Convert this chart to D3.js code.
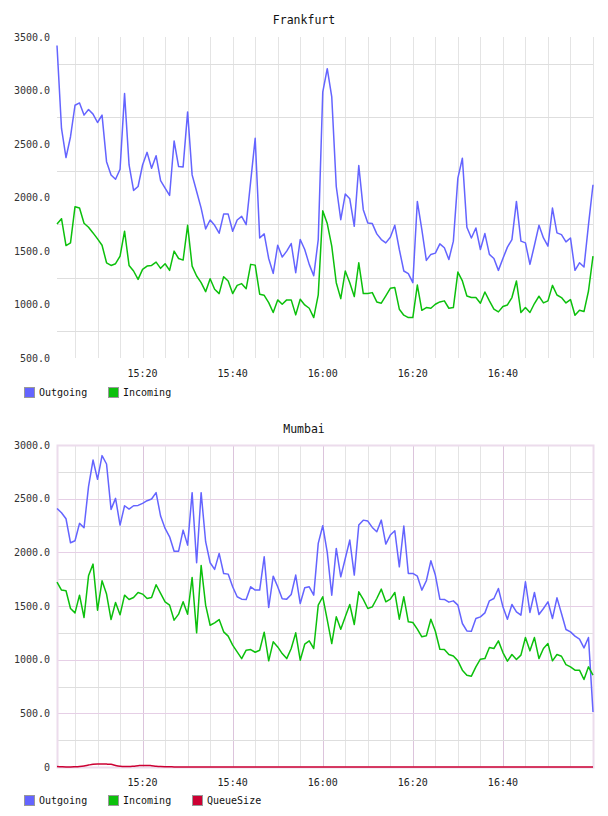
<!DOCTYPE html>
<html><head><meta charset="utf-8">
<script src="https://cdn.jsdelivr.net/npm/d3@7"></script>
<style>body{margin:0;background:#fff}svg{display:block}text{font-family:"DejaVu Sans Mono",monospace}</style>
</head><body>
<script>
// ---- data ----
const startTime = "15:01";           // first sample, one sample per minute
const xTickLabels = ["15:20","15:40","16:00","16:20","16:40"];

const frankfurtOutgoing = [3420,2645,2373,2568,2862,2884,2770,2822,2779,2701,2770,2335,2211,2171,2264,2971,2304,2066,2103,2304,
 2422,2273,2391,2158,2087,2019,2528,2289,2286,2800,2211,2056,1901,1706,1790,1740,1666,1845,1845,1684,
 1790,1824,1746,2150,2553,1622,1660,1430,1291,1554,1443,1499,1570,1297,1607,1514,1375,1269,1607,2985,
 3204,2940,2103,1793,2032,1988,1731,2298,1886,1762,1756,1660,1607,1576,1628,1740,1514,1313,1288,1204,
 1963,1700,1412,1468,1480,1567,1530,1421,1592,2181,2367,1722,1622,1715,1514,1663,1468,1430,1319,1430,
 1536,1607,1963,1592,1576,1375,1554,1740,1622,1545,1901,1669,1653,1585,1622,1319,1390,1350,1746,2119];
const frankfurtIncoming = [1753,1802,1551,1576,1914,1902,1759,1722,1669,1613,1554,1390,1365,1381,1452,1685,1365,1313,1235,1328,
 1359,1365,1396,1338,1381,1319,1499,1430,1415,1740,1359,1266,1204,1120,1241,1142,1102,1260,1220,1102,
 1179,1195,1148,1375,1368,1096,1086,1018,925,1043,1002,1043,1043,903,1049,996,965,878,1089,1875,
 1756,1545,1204,1055,1313,1204,1074,1390,1102,1102,1111,1024,1012,1080,1151,1158,956,900,878,878,
 1182,946,971,965,1002,1024,1034,965,971,1303,1220,1080,1065,1065,1012,1117,1034,956,931,981,
 996,1065,1220,925,971,925,1009,1077,1015,1034,1179,1089,1065,1015,1046,900,946,934,1126,1452];

const mumbaiOutgoing = [2409,2369,2313,2089,2108,2270,2229,2612,2860,2680,2901,2823,2400,2503,2254,2434,2403,2434,2437,2456,
 2481,2497,2556,2338,2223,2145,2011,2011,2207,2067,2556,1903,2556,2099,1903,1841,1990,1803,1797,1679,
 1586,1564,1561,1679,1648,1648,1959,1486,1778,1679,1567,1564,1607,1788,1523,1670,1679,1601,2083,2248,
 2000,1601,2036,1772,1943,2114,1788,2254,2300,2291,2232,2192,2300,2077,2161,2201,1865,2245,1803,1803,
 1778,1648,1735,1921,1788,1564,1561,1536,1548,1508,1337,1268,1265,1383,1399,1436,1548,1570,1663,1492,
 1377,1514,1446,1415,1726,1440,1626,1421,1477,1539,1383,1576,1430,1281,1259,1219,1191,1110,1206,513];
const mumbaiIncoming = [1722,1648,1642,1477,1436,1601,1393,1781,1890,1461,1735,1611,1374,1533,1418,1601,1561,1579,1626,1611,
 1570,1579,1698,1617,1539,1508,1368,1424,1539,1424,1766,1250,1878,1508,1321,1343,1374,1259,1219,1135,
 1073,1010,1088,1094,1069,1088,1256,989,1166,1119,1057,1010,1104,1250,995,1144,1175,1104,1508,1586,
 1370,1150,1399,1284,1399,1514,1328,1632,1561,1477,1492,1570,1657,1539,1564,1626,1377,1586,1353,1346,
 1284,1213,1222,1377,1265,1097,1094,1048,1035,989,902,855,846,933,1004,1010,1113,1104,1175,1066,
 986,1048,1001,1042,1206,1082,1206,1010,1104,1150,989,1048,1032,954,933,902,902,815,933,855];
const mumbaiQueue = [5,2,0,0,2,5,10,18,25,28,28,27,25,15,8,5,5,8,12,15,
 15,12,8,5,3,2,1,0,0,0,0,0,0,0,0,0,0,0,0,0,
 0,0,0,0,0,0,0,0,0,0,0,0,0,0,0,0,0,0,0,0,
 0,0,0,0,0,0,0,0,0,0,0,0,0,0,0,0,0,0,0,0,
 0,0,0,0,0,0,0,0,0,0,0,0,0,0,0,0,0,0,0,0,
 0,0,0,0,0,0,0,0,0,0,0,0,0,0,0,0,0,0,0,0];

const frankfurtYTicks = [500,1000,1500,2000,2500,3000,3500];
const mumbaiYTicks = [0,500,1000,1500,2000,2500,3000];

// ---- drawing ----
const W = 608, H = 816;
const svg = d3.select("body").append("svg").attr("width", W).attr("height", H);
const parse = d3.timeParse("%H:%M");
const t0 = parse(startTime);
const times = frankfurtOutgoing.map((_, i) => d3.timeMinute.offset(t0, i));
const COL = {out: "#6464ff", inc: "#0cc00c", q: "#cc0033"};

function chart(opts) {
  const {title, titleY, top, bottom, yDomain, yTicks, series, legendY, pink} = opts;
  const x = d3.scaleTime().domain(d3.extent(times)).range([57, 593]);
  const y = d3.scaleLinear().domain(yDomain).range([bottom, top]);
  const g = svg.append("g");

  g.append("text").attr("x", 304).attr("y", titleY).attr("text-anchor", "middle")
    .attr("font-size", 11.5).attr("fill", "#111").text(title);

  // vertical grid every 5 minutes
  const t5 = d3.timeMinute.every(5).range(x.domain()[0], d3.timeMinute.offset(x.domain()[1], 1));
  g.selectAll(".vg").data(t5).join("line")
    .attr("x1", d => Math.round(x(d)) + 0.5).attr("x2", d => Math.round(x(d)) + 0.5)
    .attr("y1", top).attr("y2", bottom)
    .attr("stroke", d => (pink && d.getMinutes() % 20 === 0) ? "#dcc4dc" : "#e4e4e4").attr("stroke-width", 1);

  // horizontal grid every 250
  const hv = d3.range(yDomain[0] + 250, yDomain[1] + 1, 250);
  g.selectAll(".hg").data(hv).join("line")
    .attr("x1", 57).attr("x2", 593)
    .attr("y1", d => Math.round(y(d)) + 0.5).attr("y2", d => Math.round(y(d)) + 0.5)
    .attr("stroke", d => (pink && d % 500 === 0) ? "#e6cfe6" : (d % 500 === 0 && !pink ? "none" : "#dedede"))
    .attr("stroke-width", 1);

  if (pink) {
    g.append("rect").attr("x", 57.5).attr("y", top + 0.5).attr("width", 536).attr("height", bottom - top)
      .attr("fill", "none").attr("stroke", "#ecdcec").attr("stroke-width", 2);
  }

  // y labels
  g.selectAll(".yl").data(yTicks).join("text")
    .attr("x", 50).attr("y", d => y(d)).attr("dy", "0.35em").attr("text-anchor", "end")
    .attr("font-size", 10).attr("fill", "#333")
    .text(d => d === 0 ? "0" : d3.format(".1f")(d));

  // x labels
  g.selectAll(".xl").data(xTickLabels.map(parse)).join("text")
    .attr("x", d => x(d)).attr("y", bottom + 15).attr("dy", "0.35em").attr("text-anchor", "middle")
    .attr("font-size", 10).attr("fill", "#222").text(d3.timeFormat("%H:%M"));

  // series
  const line = d3.line().x((d, i) => x(times[i])).y(d => y(d));
  series.forEach(s => {
    g.append("path").datum(s.values).attr("d", line.curve(s.smooth ? d3.curveMonotoneX : d3.curveLinear))
      .attr("fill", "none").attr("stroke", s.color).attr("stroke-width", 1.5).attr("stroke-linejoin", "round");
  });

  // legend
  const lg = g.append("g").attr("transform", `translate(24,${legendY})`);
  let lx = 0;
  series.forEach(s => {
    lg.append("rect").attr("x", lx + 0.5).attr("y", 0.5).attr("width", 10).attr("height", 10)
      .attr("fill", s.color).attr("stroke", "#999").attr("stroke-width", 1);
    lg.append("text").attr("x", lx + 15).attr("y", 5.5).attr("dy", "0.35em")
      .attr("font-size", 10).attr("fill", "#111").text(s.name);
    lx += s.name.length * 6 + 36;
  });
}

chart({title: "Frankfurt", titleY: 24, top: 37, bottom: 358, yDomain: [500, 3500], yTicks: frankfurtYTicks,
  legendY: 387, pink: false,
  series: [{name: "Outgoing", values: frankfurtOutgoing, color: COL.out},
           {name: "Incoming", values: frankfurtIncoming, color: COL.inc}]});

chart({title: "Mumbai", titleY: 433, top: 445, bottom: 767, yDomain: [0, 3000], yTicks: mumbaiYTicks,
  legendY: 795, pink: true,
  series: [{name: "Outgoing", values: mumbaiOutgoing, color: COL.out},
           {name: "Incoming", values: mumbaiIncoming, color: COL.inc},
           {name: "QueueSize", values: mumbaiQueue, color: COL.q, smooth: true}]});
</script>
</body></html>
